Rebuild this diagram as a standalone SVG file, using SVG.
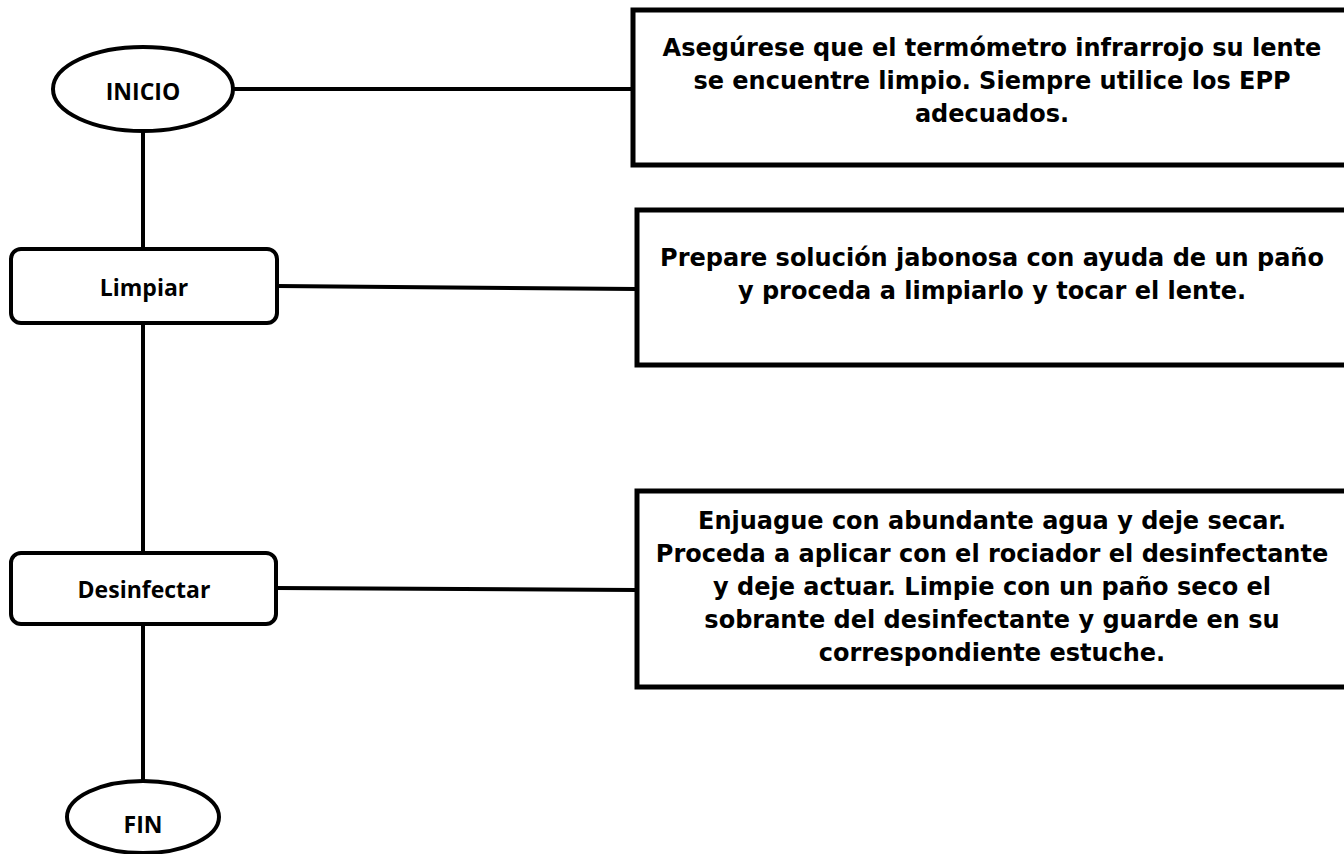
<svg xmlns="http://www.w3.org/2000/svg" width="1344" height="854" viewBox="0 0 1344 854">
<style>
.node{fill:#fff;stroke:#000;stroke-width:4}
.box{fill:#fff;stroke:#000;stroke-width:5}
.conn{stroke:#000;stroke-width:4;fill:none}
.lbl{font-family:"Open Sans","Liberation Sans",sans-serif;font-weight:bold;font-size:23px;text-anchor:middle;fill:#000}
.txt{font-family:"DejaVu Sans",Verdana,sans-serif;font-weight:bold;font-size:24px;text-anchor:middle;fill:#000}
</style>
<rect width="1344" height="854" fill="#fff"/>
<g id="connectors">
<line class="conn" x1="143" y1="131" x2="143" y2="249"/>
<line class="conn" x1="143" y1="323" x2="143" y2="553"/>
<line class="conn" x1="143" y1="624" x2="143" y2="781"/>
<line class="conn" x1="233" y1="89" x2="633" y2="89"/>
<line class="conn" x1="277" y1="286" x2="637" y2="289"/>
<line class="conn" x1="276" y1="588" x2="637" y2="590"/>
</g>
<g id="inicio">
<ellipse class="node" cx="143" cy="89" rx="90" ry="42"/>
<text class="lbl" x="143" y="100">INICIO</text>
</g>
<g id="limpiar">
<rect class="node" x="11" y="249" width="266" height="74" rx="10"/>
<text class="lbl" x="144" y="296">Limpiar</text>
</g>
<g id="desinfectar">
<rect class="node" x="11" y="553" width="265" height="71" rx="10"/>
<text class="lbl" x="144" y="598">Desinfectar</text>
</g>
<g id="fin">
<ellipse class="node" cx="143" cy="817" rx="76" ry="36"/>
<text class="lbl" x="143" y="833">FIN</text>
</g>
<g id="box1">
<rect class="box" x="633" y="10" width="720" height="155"/>
<text class="txt" x="992" y="56">Asegúrese que el termómetro infrarrojo su lente</text>
<text class="txt" x="992" y="89">se encuentre limpio. Siempre utilice los EPP</text>
<text class="txt" x="992" y="122">adecuados.</text>
</g>
<g id="box2">
<rect class="box" x="637" y="210" width="716" height="155"/>
<text class="txt" x="992" y="266">Prepare solución jabonosa con ayuda de un paño</text>
<text class="txt" x="992" y="299">y proceda a limpiarlo y tocar el lente.</text>
</g>
<g id="box3">
<rect class="box" x="637" y="491" width="716" height="196"/>
<text class="txt" x="992" y="529">Enjuague con abundante agua y deje secar.</text>
<text class="txt" x="992" y="562">Proceda a aplicar con el rociador el desinfectante</text>
<text class="txt" x="992" y="595">y deje actuar. Limpie con un paño seco el</text>
<text class="txt" x="992" y="628">sobrante del desinfectante y guarde en su</text>
<text class="txt" x="992" y="661">correspondiente estuche.</text>
</g>
</svg>
